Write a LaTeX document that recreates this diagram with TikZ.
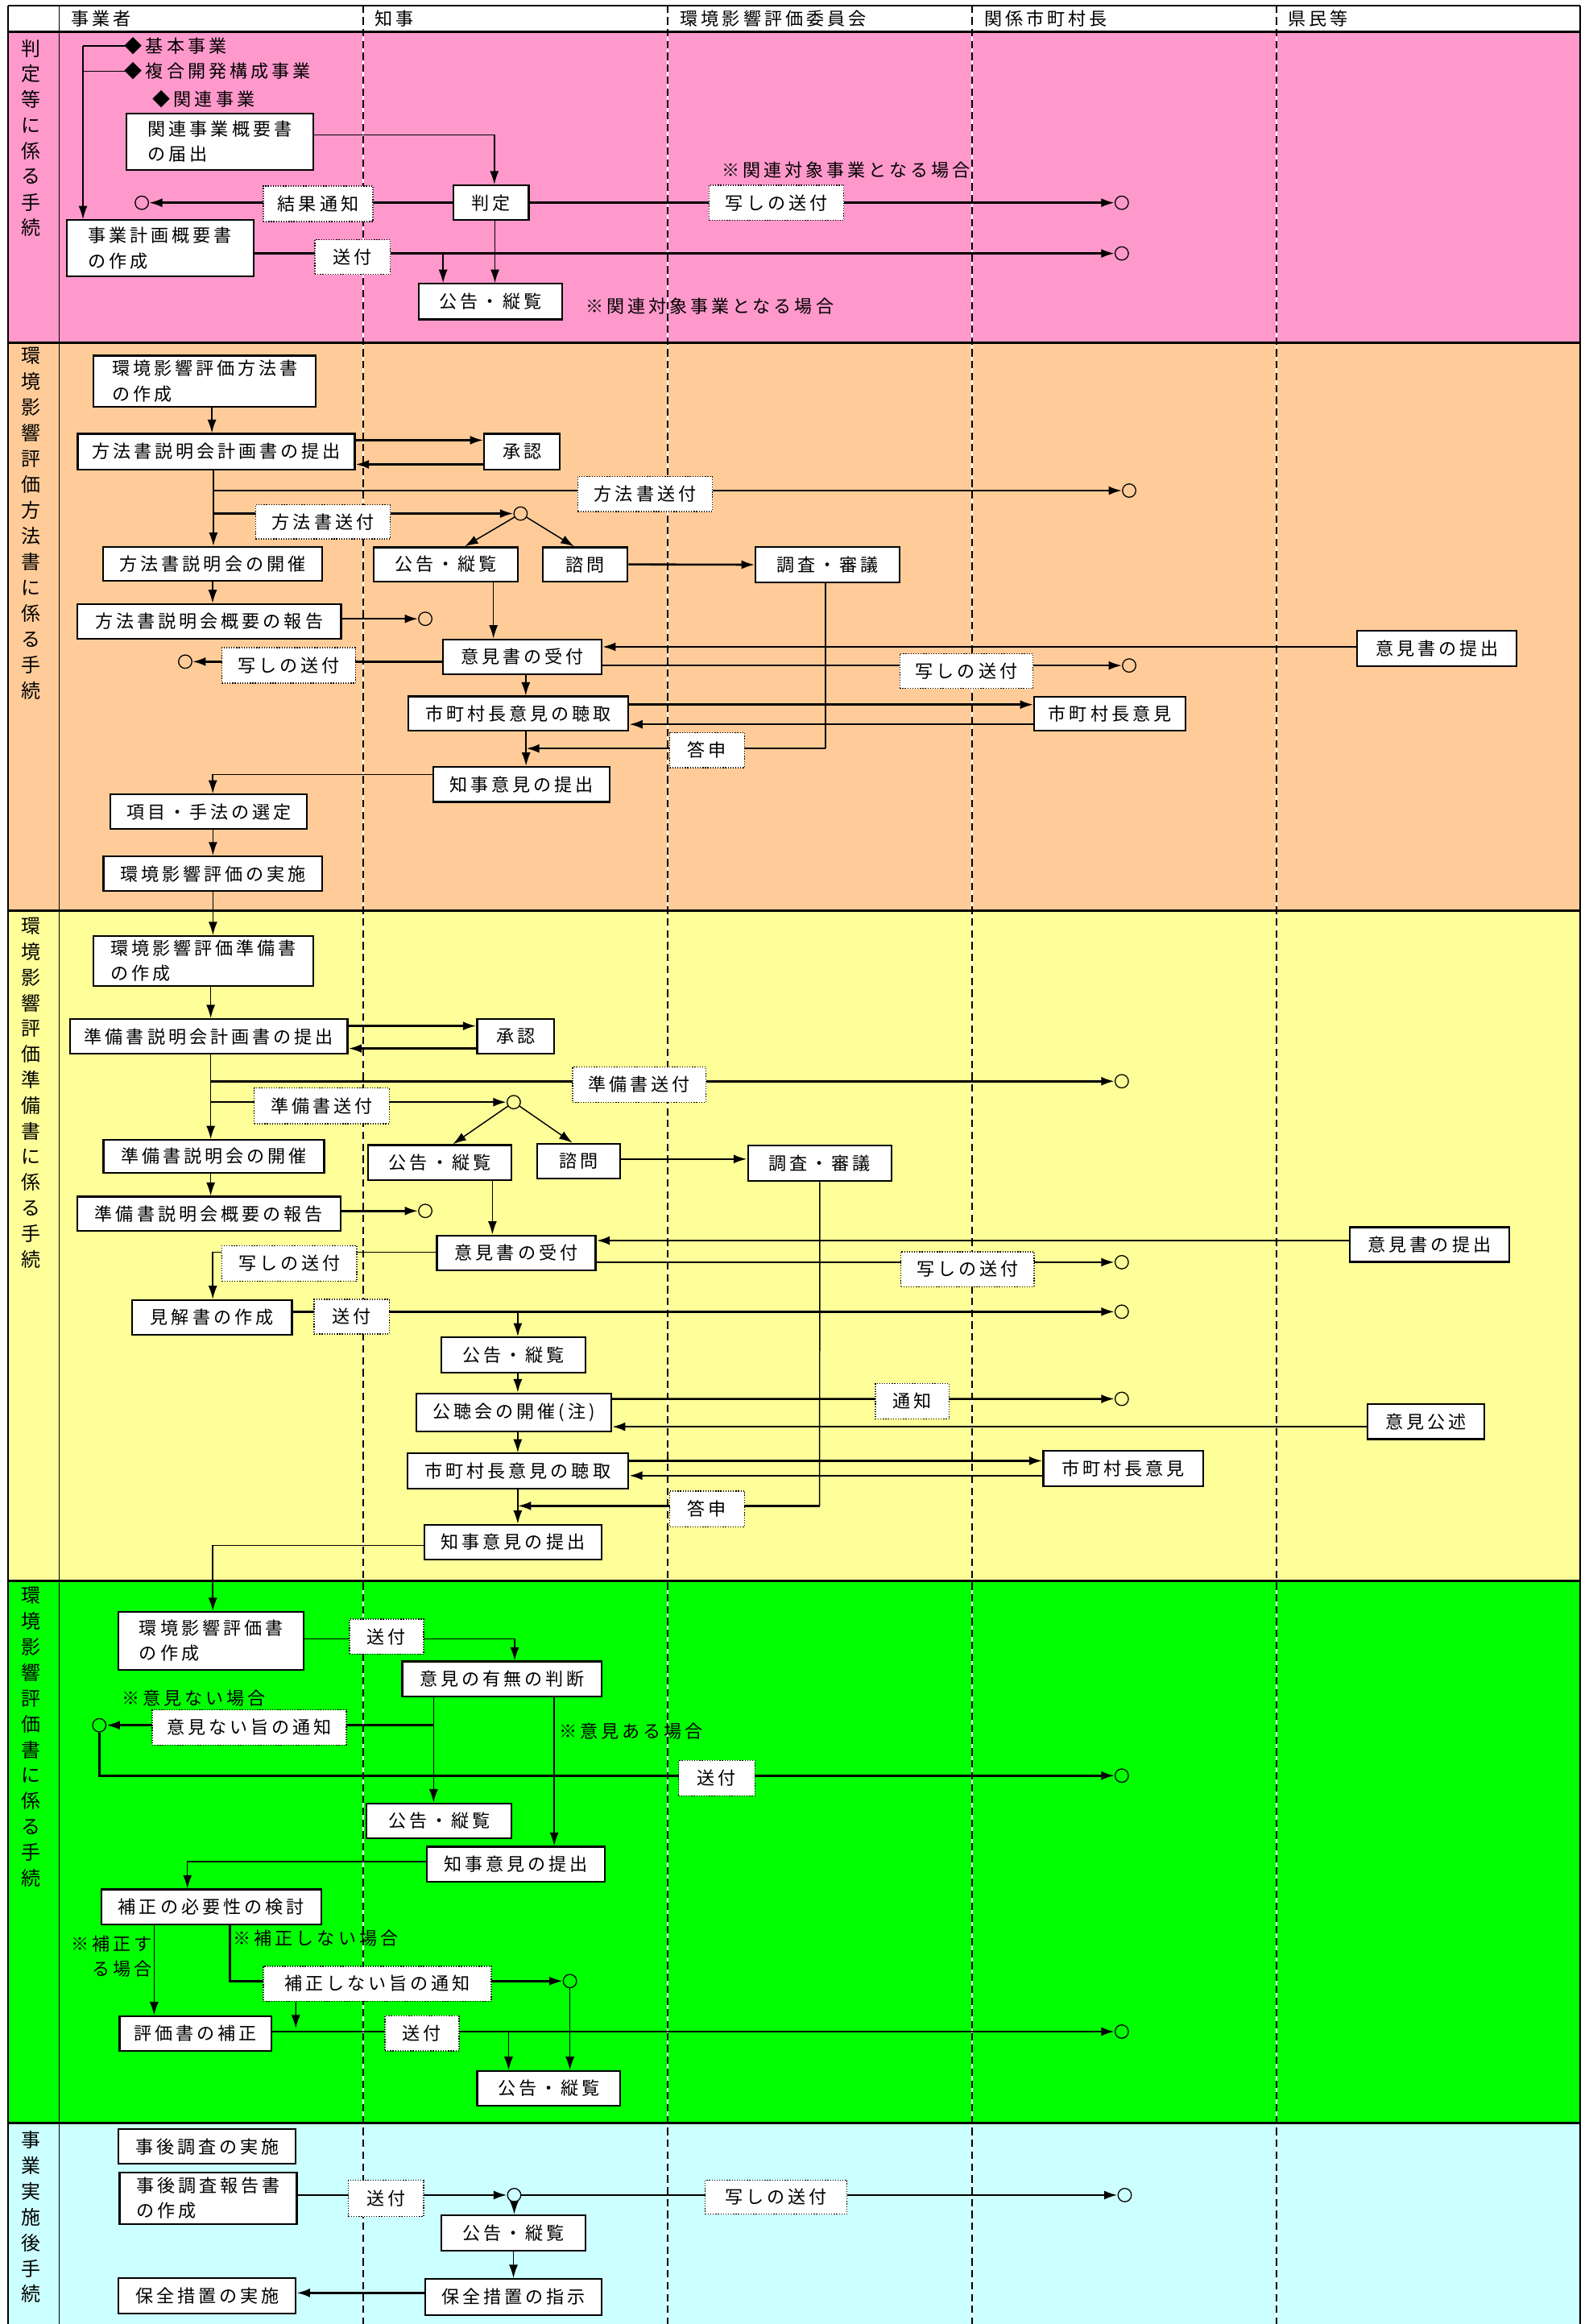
\documentclass[tikz,border=0pt]{standalone}
\usepackage{fontspec}
\newfontfamily\jpfamily{Noto Sans CJK JP}[LetterSpace=18]
\newcommand\jpf{\jpfamily\fontsize{12}{17}\selectfont}
\usetikzlibrary{arrows.meta}

\definecolor{pinkbg}{RGB}{255,153,204}
\definecolor{orangebg}{RGB}{255,204,153}
\definecolor{yellowbg}{RGB}{255,255,153}
\definecolor{greenbg}{RGB}{0,255,0}
\definecolor{cyanbg}{RGB}{204,255,255}

\tikzset{
  box/.style={draw, fill=white, line width=1.2pt, inner sep=0pt, align=left, font=\jpf},
  lbl/.style={draw, densely dotted, fill=white, line width=0.7pt, inner sep=0pt, font=\jpf},
  sz/.style 2 args={minimum width=#1pt, minimum height=#2pt},
  pt/.style={circle, draw, line width=0.7pt, minimum size=9pt, inner sep=0pt},
  note/.style={anchor=west, inner sep=0pt, font=\jpf},
  ttl/.style={inner sep=0pt, font=\jpfamily\fontsize{13}{17}\selectfont},
  flow/.style={line width=1.4pt, -{Latex[length=9pt,width=6pt]}},
  tflow/.style={line width=0.8pt, -{Latex[length=9pt,width=6pt]}},
  tlink/.style={line width=0.8pt},
  lane/.style={dash pattern=on 5pt off 3pt, line width=0.8pt},
}

\pgfdeclarelayer{back}
\pgfdeclarelayer{mid}
\pgfsetlayers{back,mid,main}

\begin{document}
\begin{tikzpicture}[x=1pt,y=-1pt]
  \useasboundingbox (0,0) rectangle (1072,1568);

  % sections and lanes
  \begin{pgfonlayer}{back}
    \fill [white] (0,0) rectangle (1072,1568);
    \fill [pinkbg] (5.5,21.4) rectangle (1066.5,231.5);
    \fill [orangebg] (5.5,231.5) rectangle (1066.5,614.5);
    \fill [yellowbg] (5.5,614.5) rectangle (1066.5,1066.4);
    \fill [greenbg] (5.5,1066.4) rectangle (1066.5,1432.6);
    \fill [cyanbg] (5.5,1432.6) rectangle (1066.5,1568);
    \foreach \x in {245,450.5,656,861.5} {
      \draw [white, line width=0.8pt] (\x,3.6) -- (\x,1568);
      \draw [lane] (\x,3.6) -- (\x,1568);
    }
    \draw [line width=1pt] (5.5,3.6) -- (1066.5,3.6);
    \draw [line width=1pt] (5.5,3.6) -- (5.5,1568);
    \draw [line width=1pt] (1066.5,3.6) -- (1066.5,1568);
    \draw [line width=0.8pt] (40,3.6) -- (40,1568);
    \foreach \y in {21.4,231.5,614.5,1066.4,1432.6}
      \draw [line width=1.6pt] (5.5,\y) -- (1066.5,\y);
  \end{pgfonlayer}

  % header
  \node (hd1) [note] at (48,12.5) {事業者};
  \node (hd2) [note] at (253,12.5) {知事};
  \node (hd3) [note] at (459,12.5) {環境影響評価委員会};
  \node (hd4) [note] at (664,12.5) {関係市町村長};
  \node (hd5) [note] at (869,12.5) {県民等};

  % section titles
  \foreach \c [count=\i from 0] in {判,定,等,に,係,る,手,続}
    \node (sa-\i) [ttl] at (21,32.6+17.3*\i) {\c};
  \foreach \c [count=\i from 0] in {環,境,影,響,評,価,方,法,書,に,係,る,手,続}
    \node (sb-\i) [ttl] at (21,240+17.4*\i) {\c};
  \foreach \c [count=\i from 0] in {環,境,影,響,評,価,準,備,書,に,係,る,手,続}
    \node (sc-\i) [ttl] at (21,624.8+17.3*\i) {\c};
  \foreach \c [count=\i from 0] in {環,境,影,響,評,価,書,に,係,る,手,続}
    \node (sd-\i) [ttl] at (21,1076.7+17.3*\i) {\c};
  \foreach \c [count=\i from 0] in {事,業,実,施,後,手,続}
    \node (se-\i) [ttl] at (21,1444+17.3*\i) {\c};

  % judgement
  \node (kihon) [note] at (84,31) {◆基本事業};
  \node (fukugo) [note] at (84,48) {◆複合開発構成事業};
  \node (kanrenj) [note] at (103,67) {◆関連事業};
  \node (kanren) [box, sz={126}{38}] at (148.4,95.5) {関連事業概要書\\の届出};
  \node (hantei) [box, sz={51}{23.5}] at (331.3,136.8) {判定};
  \node (keikaku) [box, sz={126}{38}] at (108,167.5) {事業計画概要書\\の作成};
  \node (kokoku) [box, sz={97}{24}] at (331,203.5) {公告・縦覧};
  \node (p1) [pt] at (95.7,136.8) {};
  \node (p2) [pt] at (757,136.8) {};
  \node (p3) [pt] at (757,171) {};
  \node (kekka) [lbl, sz={74}{24}] at (214.7,137.5) {結果通知};
  \node (utsushi) [lbl, sz={91}{23.5}] at (524,136.8) {写しの送付};
  \node (sofu) [lbl, sz={51}{23.5}] at (238,173.5) {送付};
  \node (na1) [note] at (487,115) {※関連対象事業となる場合};
  \node (na2) [note] at (395,206.5) {※関連対象事業となる場合};
  \coordinate (br1) at (56,31);
  \coordinate (br2) at (56,48);
  \coordinate (b1) at (299,171);

  % scoping document
  \node (hoho) [box, sz={150}{34.4}] at (138.2,257.2) {環境影響評価方法書\\の作成};
  \node (hkeikaku) [box, sz={187}{24}] at (145.9,304.7) {方法書説明会計画書の提出};
  \node (hshonin) [box, sz={51}{24}] at (352.3,304.7) {承認};
  \node (hkaisai) [box, sz={148}{23}] at (143.5,380.4) {方法書説明会の開催};
  \node (hkokoku) [box, sz={97}{23}] at (300.8,380.8) {公告・縦覧};
  \node (hshimon) [box, sz={57}{23}] at (395,380.8) {諮問};
  \node (hchosa) [box, sz={97}{24}] at (558.5,381) {調査・審議};
  \node (hhokoku) [box, sz={178}{23.5}] at (141.2,419.3) {方法書説明会概要の報告};
  \node (huketsuke) [box, sz={107}{23.6}] at (352.4,443.2) {意見書の受付};
  \node (hiken) [box, sz={107.6}{24}] at (969.8,437.5) {意見書の提出};
  \node (hchoshu) [box, sz={148.4}{23}] at (349.8,481.4) {市町村長意見の聴取};
  \node (hsoncho) [box, sz={102}{23}] at (749,481.5) {市町村長意見};
  \node (hchiji) [box, sz={119}{23.7}] at (352.1,529.2) {知事意見の提出};
  \node (koumoku) [box, sz={132.7}{23.3}] at (140.9,547.7) {項目・手法の選定};
  \node (jisshi) [box, sz={147.7}{23.6}] at (143.7,589.5) {環境影響評価の実施};
  \node (p4) [pt] at (762,331) {};
  \node (p5) [pt] at (351.3,346.5) {};
  \node (p6) [pt] at (287,417.5) {};
  \node (p7) [pt] at (125,446.4) {};
  \node (p8) [pt] at (762,449) {};
  \node (hsofu1) [lbl, sz={91}{23.5}] at (435.4,333.3) {方法書送付};
  \node (hsofu2) [lbl, sz={91}{23}] at (218,352.1) {方法書送付};
  \node (hutsushi1) [lbl, sz={90}{24}] at (194.9,448.9) {写しの送付};
  \node (hutsushi2) [lbl, sz={90}{23.5}] at (652.2,452.8) {写しの送付};
  \node (htoshin) [lbl, sz={50.5}{23.5}] at (477.2,506.2) {答申};
  \coordinate (b2) at (144,331);
  \coordinate (b3) at (144,346.5);
  \coordinate (t1) at (557.2,505);
  \coordinate (j1) at (355,505);

  % draft statement
  \node (junbi) [box, sz={148.3}{33.5}] at (137.2,648.3) {環境影響評価準備書\\の作成};
  \node (jkeikaku) [box, sz={187.3}{23.5}] at (140.9,699.3) {準備書説明会計画書の提出};
  \node (jshonin) [box, sz={52}{23.5}] at (348,699.3) {承認};
  \node (jkaisai) [box, sz={149}{22}] at (144.3,780.2) {準備書説明会の開催};
  \node (jkokoku1) [box, sz={97}{23.5}] at (296.8,784.3) {公告・縦覧};
  \node (jshimon) [box, sz={56}{23.4}] at (390.4,783.3) {諮問};
  \node (jchosa) [box, sz={97}{24}] at (553.2,784.9) {調査・審議};
  \node (jhokoku) [box, sz={177.7}{23}] at (140.9,818.9) {準備書説明会概要の報告};
  \node (juketsuke) [box, sz={107}{23.5}] at (348.4,845.3) {意見書の受付};
  \node (jiken) [box, sz={108}{23.3}] at (964.7,839.7) {意見書の提出};
  \node (kenkai) [box, sz={108}{23.5}] at (143,888.8) {見解書の作成};
  \node (jkokoku2) [box, sz={97}{24}] at (346.5,914.3) {公告・縦覧};
  \node (kochokai) [box, sz={131.4}{25.7}] at (346.7,952.9) {公聴会の開催(注)};
  \node (koujutsu) [box, sz={78.6}{23.8}] at (962.3,959.1) {意見公述};
  \node (jchoshu) [box, sz={149}{23.7}] at (349.4,992.5) {市町村長意見の聴取};
  \node (jsoncho) [box, sz={108}{23.8}] at (758.1,990.9) {市町村長意見};
  \node (jchiji) [box, sz={119.6}{23.6}] at (346.2,1040.5) {知事意見の提出};
  \node (p9) [pt] at (757,729.5) {};
  \node (p10) [pt] at (346.7,743.6) {};
  \node (p11) [pt] at (287,817) {};
  \node (p12) [pt] at (757,851.6) {};
  \node (p13) [pt] at (757,885) {};
  \node (p14) [pt] at (757,943.8) {};
  \node (jsofu1) [lbl, sz={90}{23.6}] at (431.5,731.8) {準備書送付};
  \node (jsofu2) [lbl, sz={91}{24}] at (217.1,746.1) {準備書送付};
  \node (jutsushi1) [lbl, sz={90}{23.5}] at (652.9,856.3) {写しの送付};
  \node (jutsushi2) [lbl, sz={91}{24}] at (195.2,852.4) {写しの送付};
  \node (jsofu3) [lbl, sz={50.6}{23.4}] at (237.3,888.3) {送付};
  \node (tsuchi) [lbl, sz={50}{24}] at (615.7,945.3) {通知};
  \node (jtoshin) [lbl, sz={50.5}{24}] at (477.2,1018) {答申};
  \coordinate (b4) at (142.2,729.5);
  \coordinate (b5) at (142.2,743.6);
  \coordinate (b6) at (349.4,885);
  \coordinate (t2) at (553.1,1016);
  \coordinate (j2) at (349.4,1016);

  % final statement
  \node (hyoka) [box, sz={125}{39}] at (142.5,1107) {環境影響評価書\\の作成};
  \node (handan) [box, sz={134.7}{23.6}] at (338.8,1132.8) {意見の有無の判断};
  \node (gkokoku1) [box, sz={97.8}{23.6}] at (296.4,1228.5) {公告・縦覧};
  \node (gchiji) [box, sz={120}{23.6}] at (348,1257.8) {知事意見の提出};
  \node (kento) [box, sz={148.3}{23.5}] at (142.5,1286.5) {補正の必要性の検討};
  \node (hosei) [box, sz={102.5}{23.5}] at (132,1372) {評価書の補正};
  \node (gkokoku2) [box, sz={96.4}{23.5}] at (370.2,1409) {公告・縦覧};
  \node (p15) [pt] at (67,1164) {};
  \node (p16) [pt] at (757,1198) {};
  \node (p17) [pt] at (384.6,1336.6) {};
  \node (p18) [pt] at (757,1370.7) {};
  \node (gsofu1) [lbl, sz={50}{23.6}] at (260.8,1104.2) {送付};
  \node (nashi) [lbl, sz={131}{23.7}] at (168.2,1165.5) {意見ない旨の通知};
  \node (gsofu2) [lbl, sz={51.4}{24}] at (483.7,1199.7) {送付};
  \node (hnashi) [lbl, sz={153.8}{23.6}] at (254.7,1338.4) {補正しない旨の通知};
  \node (gsofu3) [lbl, sz={50}{23.7}] at (284.8,1371.9) {送付};
  \node (nc1) [note] at (82,1145.5) {※意見ない場合};
  \node (nc2) [note] at (377,1168) {※意見ある場合};
  \node (nc3) [note, anchor=east, align=right] at (102.6,1320) {※補正す\\る場合};
  \node (nc4) [note] at (157.3,1308) {※補正しない場合};
  \coordinate (b7) at (292.6,1164);
  \coordinate (b9) at (343.2,1370.7);
  \coordinate (j3) at (199.6,1368.5);

  % after the project
  \node (jigo1) [box, sz={119.6}{23.4}] at (139.8,1448.3) {事後調査の実施};
  \node (jigo2) [box, sz={119.6}{34.5}] at (140.5,1483.2) {事後調査報告書\\の作成};
  \node (ckokoku) [box, sz={97}{24}] at (346.5,1506.6) {公告・縦覧};
  \node (shiji) [box, sz={119}{24.4}] at (346.6,1549.8) {保全措置の指示};
  \node (hozen) [box, sz={119.6}{23.6}] at (139.8,1549) {保全措置の実施};
  \node (p19) [pt] at (347,1481) {};
  \node (p20) [pt] at (759,1481) {};
  \node (csofu) [lbl, sz={50.6}{24.6}] at (260.5,1483.3) {送付};
  \node (cutsushi) [lbl, sz={95.6}{22.8}] at (523.8,1482.4) {写しの送付};

  % connectors
  \begin{pgfonlayer}{mid}
    \draw [tflow] (br1) -- (br1 |- keikaku.north);
    \draw [tlink] (br1) -- (kihon.west);
    \draw [tlink] (br2) -- (fukugo.west);
    \draw [tflow] ([yshift=4.5pt]kanren.east) -| ([xshift=2.3pt]hantei.north);
    \draw [flow] (hantei.west) -- (p1);
    \draw [flow] (hantei.east) -- (p2);
    \draw [flow] ([yshift=-3.5pt]keikaku.east) -- (p3);
    \draw [tflow] (b1) -- (b1 |- kokoku.north);
    \draw [tflow] ([xshift=2.7pt]hantei.south) -- ([xshift=2.7pt]hantei.south |- kokoku.north);

    \draw [tflow] ([xshift=4.8pt]hoho.south) -- ([xshift=4.8pt]hoho.south |- hkeikaku.north);
    \draw [flow] ([yshift=7.7pt]hkeikaku.east) -- ([yshift=7.7pt]hkeikaku.east -| hshonin.west);
    \draw [flow] ([yshift=-8.6pt]hshonin.west) -- ([yshift=-8.6pt]hshonin.west -| hkeikaku.east);
    \draw [tflow] ([xshift=-1.9pt]hkeikaku.south) -- ([xshift=-1.9pt]hkeikaku.south |- hkaisai.north);
    \draw [flow] (b2) -- (p4);
    \draw [flow] (b3) -- (p5);
    \draw [tflow] (p5) -- ([xshift=12.8pt]hkokoku.north);
    \draw [tflow] (p5) -- ([xshift=-7.6pt]hshimon.north);
    \draw [flow] (hshimon.east) -- (hchosa.west);
    \draw [tflow] (hkaisai.south) -- (hkaisai.south |- hhokoku.north);
    \draw [flow] ([yshift=1.8pt]hhokoku.east) -- (p6);
    \draw [tflow] ([xshift=32.2pt]hkokoku.south) -- ([xshift=32.2pt]hkokoku.south |- huketsuke.north);
    \draw [flow] ([yshift=1.1pt]hiken.west) -- ([yshift=1.1pt]hiken.west -| huketsuke.east);
    \draw [flow] ([yshift=-3.2pt]huketsuke.west) -- (p7);
    \draw [flow] ([yshift=-5.8pt]huketsuke.east) -- (p8);
    \draw [tflow] ([xshift=2.4pt]huketsuke.south) -- ([xshift=2.4pt]huketsuke.south |- hchoshu.north);
    \draw [flow] ([yshift=6pt]hchoshu.east) -- ([yshift=6pt]hchoshu.east -| hsoncho.west);
    \draw [flow] ([yshift=-7.2pt]hsoncho.west) -- ([yshift=-7.2pt]hsoncho.west -| hchoshu.east);
    \draw [tlink] ([xshift=-1.3pt]hchosa.south) -- (t1);
    \draw [flow] (t1) -- (j1);
    \draw [tflow] ([xshift=5.2pt]hchoshu.south) -- ([xshift=5.2pt]hchoshu.south |- hchiji.north);
    \draw [tflow] ([yshift=6.7pt]hchiji.west) -| ([xshift=2.7pt]koumoku.north);
    \draw [tflow] (jisshi.north |- koumoku.south) -- (jisshi.north);
    \draw [tflow] (jisshi.south) -- (jisshi.south |- junbi.north);

    \draw [tflow] ([xshift=5pt]junbi.south) -- ([xshift=5pt]junbi.south |- jkeikaku.north);
    \draw [flow] ([yshift=7.1pt]jkeikaku.east) -- ([yshift=7.1pt]jkeikaku.east -| jshonin.west);
    \draw [flow] ([yshift=-8.1pt]jshonin.west) -- ([yshift=-8.1pt]jshonin.west -| jkeikaku.east);
    \draw [tflow] ([xshift=1.3pt]jkeikaku.south) -- ([xshift=1.3pt]jkeikaku.south |- jkaisai.north);
    \draw [flow] (b4) -- (p9);
    \draw [flow] (b5) -- (p10);
    \draw [tflow] (p10) -- ([xshift=8.8pt]jkokoku1.north);
    \draw [tflow] (p10) -- ([xshift=-4.1pt]jshimon.north);
    \draw [flow] ([yshift=1.3pt]jshimon.east) -- ([yshift=1.3pt]jshimon.east -| jchosa.west);
    \draw [tflow] ([xshift=-2.1pt]jkaisai.south) -- ([xshift=-2.1pt]jkaisai.south |- jhokoku.north);
    \draw [flow] ([yshift=1.9pt]jhokoku.east) -- (p11);
    \draw [tflow] ([xshift=35.5pt]jkokoku1.south) -- ([xshift=35.5pt]jkokoku1.south |- juketsuke.north);
    \draw [flow] ([yshift=2.7pt]jiken.west) -- ([yshift=2.7pt]jiken.west -| juketsuke.east);
    \draw [flow] ([yshift=-6.3pt]juketsuke.east) -- (p12);
    \draw [tflow] ([yshift=0.3pt]juketsuke.west) -| ([xshift=0.6pt]kenkai.north);
    \draw [flow] ([yshift=3.8pt]kenkai.east) -- (p13);
    \draw [tflow] (b6) -- (b6 |- jkokoku2.north);
    \draw [tflow] ([xshift=2.9pt]jkokoku2.south) -- ([xshift=2.9pt]jkokoku2.south |- kochokai.north);
    \draw [flow] ([yshift=9.1pt]kochokai.east) -- (p14);
    \draw [flow] ([yshift=-3.5pt]koujutsu.west) -- ([yshift=-3.5pt]koujutsu.west -| kochokai.east);
    \draw [tflow] ([xshift=2.7pt]kochokai.south) -- ([xshift=2.7pt]kochokai.south |- jchoshu.north);
    \draw [flow] ([yshift=6.9pt]jchoshu.east) -- ([yshift=6.9pt]jchoshu.east -| jsoncho.west);
    \draw [flow] ([yshift=-4.7pt]jsoncho.west) -- ([yshift=-4.7pt]jsoncho.west -| jchoshu.east);
    \draw [tlink] (jchosa.south) -- (t2);
    \draw [flow] (t2) -- (j2);
    \draw [tflow] (jchoshu.south) -- (jchoshu.south |- jchiji.north);
    \draw [tflow] ([yshift=-2.3pt]jchiji.west) -| ([xshift=1.1pt]hyoka.north);

    \draw [tflow] ([yshift=1.3pt]hyoka.east) -| ([xshift=8.5pt]handan.north);
    \draw [tflow] ([xshift=-46.2pt]handan.south) -- ([xshift=-46.2pt]handan.south |- gkokoku1.north);
    \draw [flow] (b7) -- (p15);
    \draw [flow] (p15) |- (p16);
    \draw [tflow] ([xshift=35.2pt]handan.south) -- ([xshift=35.2pt]handan.south |- gchiji.north);
    \draw [tflow] ([yshift=1.8pt]gchiji.west) -| ([xshift=-16pt]kento.north);
    \draw [tflow] ([xshift=-38.5pt]kento.south) -- ([xshift=-38.5pt]kento.south |- hosei.north);
    \draw [flow] ([xshift=12.7pt]kento.south) |- (p17);
    \draw [tflow] ([xshift=-55.1pt]hnashi.south) -- (j3);
    \draw [flow] ([yshift=1.3pt]hosei.east) -- (p18);
    \draw [tflow] (b9) -- (b9 |- gkokoku2.north);
    \draw [tflow] (p17) -- (p17 |- gkokoku2.north);

    \draw [flow] ([yshift=2.2pt]jigo2.east) -- (p19);
    \draw [flow] (p19) -- (p20);
    \draw [tflow] (p19) -- (p19 |- ckokoku.north);
    \draw [tflow] (ckokoku.south) -- (ckokoku.south |- shiji.north);
    \draw [flow] ([yshift=2.8pt]shiji.west) -- ([yshift=2.8pt]shiji.west -| hozen.east);
  \end{pgfonlayer}
\end{tikzpicture}
\end{document}
